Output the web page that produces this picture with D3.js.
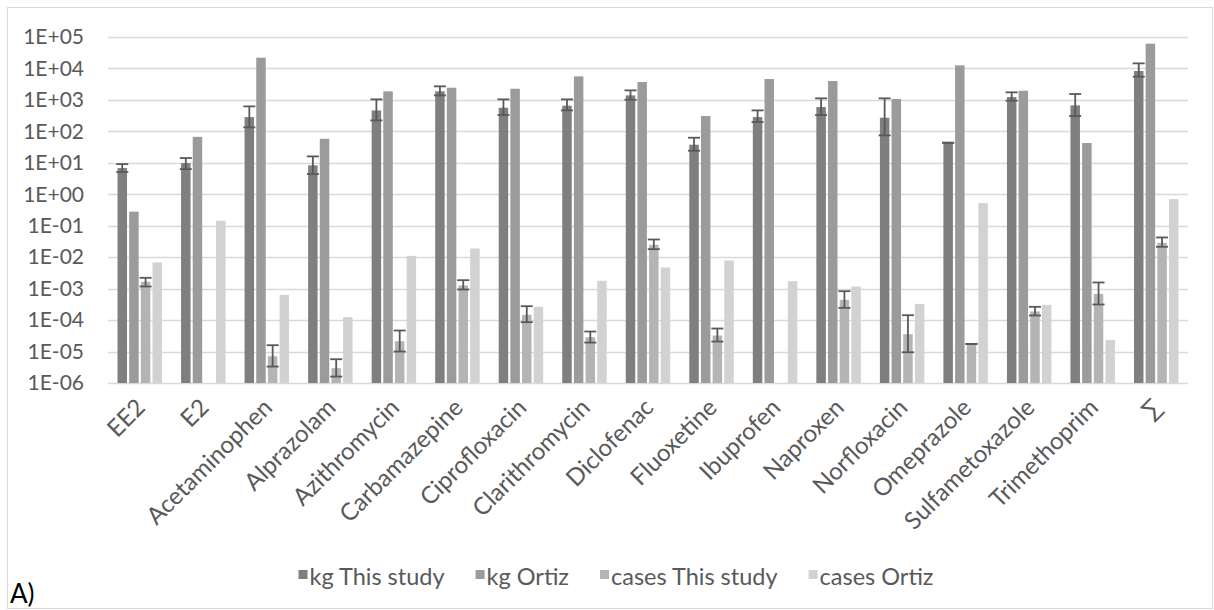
<!DOCTYPE html>
<html>
<head>
<meta charset="utf-8">
<script src="https://cdn.jsdelivr.net/npm/d3@7"></script>
<style>
  html, body { margin: 0; padding: 0; background: #ffffff; }
  svg { display: block; }
  text { font-family: Lato, "Open Sans", sans-serif; fill: #595959; }
</style>
</head>
<body>
<svg id="chart" width="1214" height="610"></svg>
<script>
// Substances on the x axis (last entry is the total)
const categories = ["EE2", "E2", "Acetaminophen", "Alprazolam", "Azithromycin", "Carbamazepine",
  "Ciprofloxacin", "Clarithromycin", "Diclofenac", "Fluoxetine", "Ibuprofen", "Naproxen",
  "Norfloxacin", "Omeprazole", "Sulfametoxazole", "Trimethoprim", "\u2211"];

const seriesNames = ["kg This study", "kg Ortiz", "cases This study", "cases Ortiz"];

// kg — this study (with error range)
const kgThisStudy = [6.8, 9.8, 285, 8.3, 464, 1870, 565, 653, 1390, 37.6, 285, 593, 272, 43.5, 1230, 670, 8280];
const kgThisLow   = [5.1, 6.3, 134, 4.4, 223, 1390, 330, 464, 1010, 24.2, 198, 330, 74.5, 43.5, 944, 307, 5470];
const kgThisHigh  = [9.1, 14.2, 622, 16, 1040, 2700, 1040, 1040, 2010, 62.8, 464, 1120, 1120, 43.5, 1740, 1540, 14500];

// kg — Ortiz
const kgOrtiz = [0.28, 67, 22000, 58, 1870, 2440, 2270, 5610, 3700, 307, 4610, 3980, 1070, 12560, 1960, 42.5, 61400];

// cases — this study (with error range); null = not reported
const casesThisStudy = [1.65e-3, null, 7.1e-6, 2.95e-6, 2.13e-5, 1.26e-3, 1.47e-4, 2.86e-5, 0.0247, 3.23e-5, null, 4.4e-4, 3.56e-5, 1.75e-5, 1.88e-4, 6.8e-4, 0.0286];
const casesThisLow   = [1.17e-3, null, 3.33e-6, 1.6e-6, 1.0e-5, 9.4e-4, 8.6e-5, 1.93e-5, 0.018, 2.08e-5, null, 2.45e-4, 9.5e-6, 1.75e-5, 1.40e-4, 3.13e-4, 0.0214];
const casesThisHigh  = [2.21e-3, null, 1.59e-5, 5.7e-6, 4.66e-5, 1.86e-3, 2.77e-4, 4.33e-5, 0.0365, 5.4e-5, null, 8.3e-4, 1.43e-4, 1.75e-5, 2.64e-4, 1.57e-3, 0.0424];

// cases — Ortiz
const casesOrtiz = [6.8e-3, 0.144, 6.35e-4, 1.24e-4, 0.011, 0.0189, 2.64e-4, 1.77e-3, 4.7e-3, 7.85e-3, 1.73e-3, 1.17e-3, 3.28e-4, 0.524, 3.05e-4, 2.35e-5, 0.70];

// y axis ticks
const tickValues = [1e-6, 1e-5, 1e-4, 1e-3, 1e-2, 1e-1, 1e0, 1e1, 1e2, 1e3, 1e4, 1e5];
const tickLabels = ["1E-06", "1E-05", "1E-04", "1E-03", "1E-02", "1E-01", "1E+00", "1E+01", "1E+02", "1E+03", "1E+04", "1E+05"];

const seriesColors = ["#7f7f7f", "#9b9b9b", "#b4b4b4", "#d2d2d2"];

// ---- build rows ----
const valuesBySeries = [kgThisStudy, kgOrtiz, casesThisStudy, casesOrtiz];
const errBySeries = [
  { low: kgThisLow, high: kgThisHigh },
  null,
  { low: casesThisLow, high: casesThisHigh },
  null
];

const svg = d3.select("#chart");
const plot = { left: 108, right: 1188, top: 37, bottom: 383 };

// chart frame
svg.append("rect")
  .attr("x", 7.5).attr("y", 7.5)
  .attr("width", 1205).attr("height", 601)
  .attr("fill", "none").attr("stroke", "#d9d9d9").attr("stroke-width", 1);

const y = d3.scaleLog().domain([1e-6, 1e5]).range([plot.bottom, plot.top]);
const x = d3.scaleBand().domain(categories).range([plot.left, plot.right])
  .paddingInner(0.3).paddingOuter(0.15);
const xs = d3.scaleBand().domain(d3.range(seriesNames.length)).range([0, x.bandwidth()])
  .paddingInner(0.187).paddingOuter(0);

// gridlines
svg.append("g").selectAll("line").data(tickValues).join("line")
  .attr("x1", plot.left).attr("x2", plot.right)
  .attr("y1", d => Math.round(y(d)) + 0.5).attr("y2", d => Math.round(y(d)) + 0.5)
  .attr("stroke", "#d9d9d9").attr("stroke-width", 1.3);

// y axis labels
const yAxis = d3.axisLeft(y).tickValues(tickValues)
  .tickFormat((d, i) => tickLabels[i]).tickSize(0).tickPadding(0);
const gy = svg.append("g").attr("transform", `translate(84,0)`).call(yAxis);
gy.select(".domain").remove();
gy.selectAll("text").attr("font-size", 21).attr("fill", "#595959")
  .style("font-family", "Lato, sans-serif");

// bars
const groups = svg.append("g").selectAll("g").data(categories).join("g")
  .attr("transform", d => `translate(${x(d)},0)`);

seriesNames.forEach((name, s) => {
  groups.each(function(cat, i) {
    const v = valuesBySeries[s][i];
    if (v == null) return;
    d3.select(this).append("rect")
      .attr("x", xs(s)).attr("width", xs.bandwidth())
      .attr("y", y(v)).attr("height", y(1e-6) - y(v))
      .attr("fill", seriesColors[s]);
  });
});

// error bars
seriesNames.forEach((name, s) => {
  const e = errBySeries[s];
  if (!e) return;
  groups.each(function(cat, i) {
    const lo = e.low[i], hi = e.high[i];
    if (lo == null || hi == null) return;
    const g = d3.select(this);
    const cx = xs(s) + xs.bandwidth() / 2;
    const capW = 6;
    const stroke = "#595959", sw = 1.8;
    g.append("line").attr("x1", cx).attr("x2", cx).attr("y1", y(lo)).attr("y2", y(hi))
      .attr("stroke", stroke).attr("stroke-width", sw);
    [lo, hi].forEach(b => {
      g.append("line").attr("x1", cx - capW).attr("x2", cx + capW)
        .attr("y1", y(b)).attr("y2", y(b))
        .attr("stroke", stroke).attr("stroke-width", sw);
    });
  });
});

// x axis labels (rotated)
svg.append("g").selectAll("text").data(categories).join("text")
  .attr("transform", d => `translate(${x(d) + x.bandwidth() / 2 + 1},403) rotate(-45)`)
  .attr("text-anchor", "end")
  .attr("dy", "0.35em")
  .attr("font-size", 24)
  .text(d => d);

// legend
const legend = svg.append("g");
let lx = 0;
seriesNames.forEach((name, s) => {
  const it = legend.append("g");
  it.append("rect").attr("x", 0).attr("y", -15).attr("width", 9).attr("height", 9)
    .attr("fill", seriesColors[s]);
  const t = it.append("text").attr("x", 11).attr("y", 0).attr("font-size", 23.5).text(name);
  const w = 11 + t.node().getComputedTextLength();
  it.attr("transform", `translate(${lx},0)`);
  lx += w + 31;
});
const legendW = lx - 31;
legend.attr("transform", `translate(${616 - legendW / 2},585)`);

// panel letter
svg.append("text").attr("x", 10).attr("y", 603).attr("font-size", 26)
  .style("fill", "#000").text("A)");
</script>
</body>
</html>
